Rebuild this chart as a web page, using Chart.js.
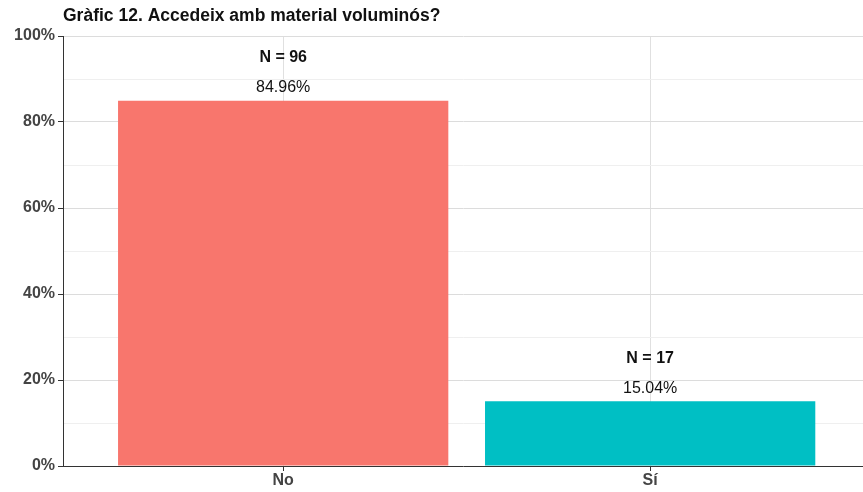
<!DOCTYPE html>
<html>
<head>
<meta charset="utf-8">
<script src="https://cdn.jsdelivr.net/npm/chart.js@4"></script>
<style>
  html, body { margin: 0; padding: 0; background: #fff; overflow: hidden; }
  #wrap { width: 863px; height: 492px; position: relative; }
</style>
</head>
<body>
<div id="wrap"><canvas id="chart"></canvas></div>
<script>
// Chart data
const categories = ['No', 'Sí'];
const percentValues = [84.96, 15.04];
const counts = [96, 17];
const barColors = ['#F8766D', '#00BFC4'];
const yTicks = [0, 20, 40, 60, 80, 100];
const chartTitle = 'Gràfic 12. Accedeix amb material voluminós?';

const FONT = '"Liberation Sans", Arial, sans-serif';

// Labels above the bars and title
const labelPlugin = {
  id: 'barLabels',
  afterDatasetsDraw(chart) {
    const ctx = chart.ctx;
    const xs = chart.scales.x, ys = chart.scales.y;
    ctx.save();
    ctx.fillStyle = '#111';
    ctx.textAlign = 'center';
    ctx.textBaseline = 'middle';
    percentValues.forEach(function(v, i) {
      const px = xs.getPixelForValue(i + 1);
      const py = ys.getPixelForValue(v);
      ctx.font = '16px ' + FONT;
      ctx.fillText(v.toFixed(2) + '%', px, py - 13);
      ctx.font = 'bold 16px ' + FONT;
      ctx.fillText('N = ' + counts[i], px, py - 43);
    });
    ctx.font = 'bold 17.5px ' + FONT;
    ctx.textAlign = 'left';
    ctx.fillText(chartTitle, 63, 16);
    ctx.restore();
  }
};

new Chart(document.getElementById('chart'), {
  type: 'bar',
  data: {
    datasets: [{
      data: percentValues.map(function(v, i) { return { x: i + 1, y: v }; }),
      backgroundColor: barColors,
      borderWidth: 0,
      barPercentage: 0.9,
      categoryPercentage: 1
    }]
  },
  options: {
    responsive: true,
    maintainAspectRatio: false,
    animation: false,
    layout: { padding: { top: 36, right: 0, left: 0, bottom: 0 } },
    plugins: { legend: { display: false }, tooltip: { enabled: false } },
    scales: {
      x: {
        type: 'linear',
        min: 0.4,
        max: 2.58,
        offset: false,
        afterBuildTicks(scale) { scale.ticks = categories.map(function(c, i) { return { value: i + 1 }; }); },
        afterFit(scale) { scale.height = 26; },
        ticks: {
          autoSkip: false,
          maxRotation: 0,
          padding: 0,
          color: '#444',
          font: { family: FONT, size: 16, weight: 'bold' },
          callback: function(v) { return categories[v - 1] || ''; }
        },
        grid: { offset: false, color: '#e0e0e0', lineWidth: 1, tickLength: 5, tickColor: '#333' },
        border: { display: true, color: '#333', width: 1 }
      },
      y: {
        min: 0,
        max: 100,
        afterBuildTicks(scale) {
          const t = [];
          for (let v = 0; v <= 100; v += 10) t.push({ value: v });
          scale.ticks = t;
        },
        afterFit(scale) { scale.width = 63; },
        ticks: {
          autoSkip: false,
          padding: 3,
          color: '#444',
          font: { family: FONT, size: 16, weight: 'bold' },
          callback: function(v) { return yTicks.indexOf(v) >= 0 ? v + '%' : ''; }
        },
        grid: {
          color: function(c) { return c.tick && c.tick.value % 20 === 0 ? '#dcdcdc' : '#efefef'; },
          lineWidth: 1,
          tickLength: 5,
          tickColor: function(c) { return c.tick && c.tick.value % 20 === 0 ? '#333' : 'rgba(0,0,0,0)'; }
        },
        border: { display: true, color: '#333', width: 1 }
      }
    }
  },
  plugins: [labelPlugin]
});
</script>
</body>
</html>
